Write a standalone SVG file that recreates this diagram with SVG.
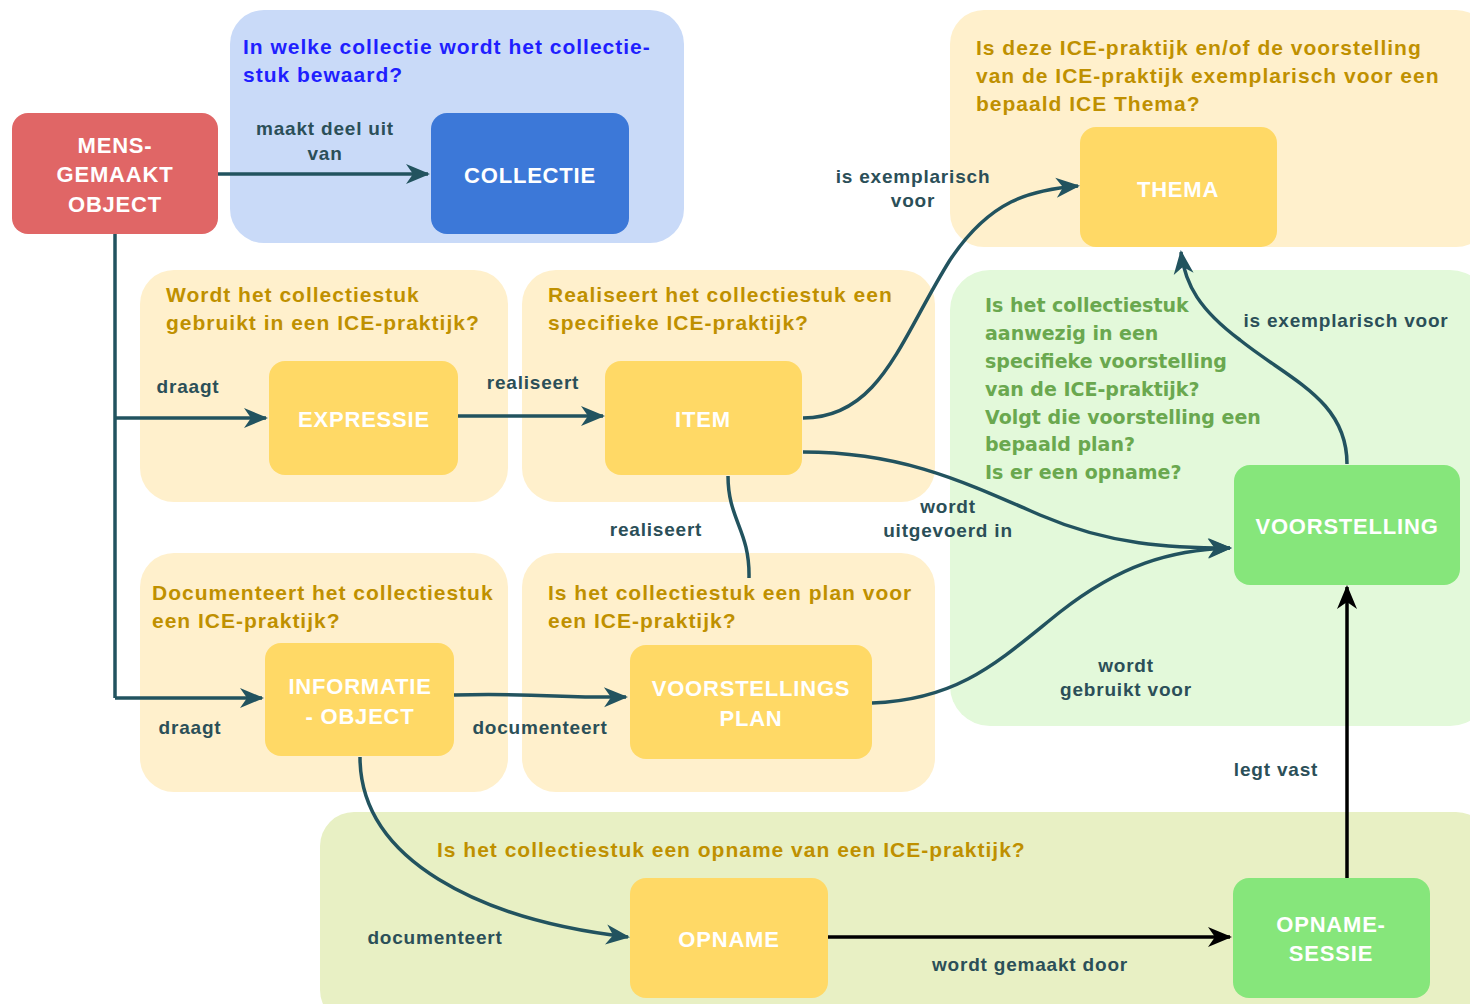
<svg xmlns="http://www.w3.org/2000/svg" width="1470" height="1004" viewBox="0 0 1470 1004">
<style>
.bg-y{fill:#fff0cc}
.bg-b{fill:#c9daf8}
.bg-g{fill:#e3f9da}
.bg-o{fill:#e8f0c4}
.n-y{fill:#ffd966}
.n-g{fill:#86e67b}
.q{font-family:"Liberation Sans",Arial,sans-serif;font-weight:bold;font-size:21px;letter-spacing:1px;fill:#bf9000}
.qb{fill:#1f1fff}
.qg{font-family:"DejaVu Sans",sans-serif;font-weight:bold;font-size:19px;fill:#6aa84f}
.nt{font-family:"Liberation Sans",Arial,sans-serif;font-weight:bold;font-size:22px;letter-spacing:0.8px;fill:#ffffff;text-anchor:middle}
.lb{font-family:"Liberation Sans",Arial,sans-serif;font-weight:bold;font-size:19px;letter-spacing:0.8px;fill:#2b4f58;text-anchor:middle}
.c{fill:none;stroke:#22535f;stroke-width:3.5}
.k{fill:none;stroke:#000;stroke-width:3.5}
</style>
<defs>
<marker id="ah" markerUnits="userSpaceOnUse" markerWidth="28" markerHeight="26" refX="24" refY="12" orient="auto">
<path d="M2,2 L26,12 L2,22 L9,12 z" fill="#22535f"/>
</marker>
<marker id="ak" markerUnits="userSpaceOnUse" markerWidth="28" markerHeight="26" refX="24" refY="12" orient="auto">
<path d="M2,2 L26,12 L2,22 L9,12 z" fill="#000"/>
</marker>
</defs>

<g id="containers">
<rect class="bg-b" x="230" y="10" width="454" height="233" rx="34"/>
<rect class="bg-y" x="950" y="10" width="540" height="237" rx="34"/>
<rect class="bg-g" x="950" y="270" width="540" height="456" rx="40"/>
<rect class="bg-y" x="140" y="270" width="368" height="232" rx="34"/>
<rect class="bg-y" x="522" y="270" width="413" height="232" rx="34"/>
<rect class="bg-y" x="140" y="553" width="368" height="239" rx="34"/>
<rect class="bg-y" x="522" y="553" width="413" height="239" rx="34"/>
<rect class="bg-o" x="320" y="812" width="1170" height="212" rx="34"/>
</g>

<g id="questions">
<text class="q qb" x="243" y="54">In welke collectie wordt het collectie-</text>
<text class="q qb" x="243" y="82">stuk bewaard?</text>
<text class="q" x="976" y="55">Is deze ICE-praktijk en/of de voorstelling</text>
<text class="q" x="976" y="83">van de ICE-praktijk exemplarisch voor een</text>
<text class="q" x="976" y="111">bepaald ICE Thema?</text>
<text class="q" x="166" y="302">Wordt het collectiestuk</text>
<text class="q" x="166" y="330">gebruikt in een ICE-praktijk?</text>
<text class="q" x="548" y="302">Realiseert het collectiestuk een</text>
<text class="q" x="548" y="330">specifieke ICE-praktijk?</text>
<text class="q" x="152" y="600">Documenteert het collectiestuk</text>
<text class="q" x="152" y="628">een ICE-praktijk?</text>
<text class="q" x="548" y="600">Is het collectiestuk een plan voor</text>
<text class="q" x="548" y="628">een ICE-praktijk?</text>
<text class="q" x="437" y="857">Is het collectiestuk een opname van een ICE-praktijk?</text>
<text class="qg" x="985" y="312">Is het collectiestuk</text>
<text class="qg" x="985" y="340">aanwezig in een</text>
<text class="qg" x="985" y="368">specifieke voorstelling</text>
<text class="qg" x="985" y="396">van de ICE-praktijk?</text>
<text class="qg" x="985" y="424">Volgt die voorstelling een</text>
<text class="qg" x="985" y="451">bepaald plan?</text>
<text class="qg" x="985" y="479">Is er een opname?</text>
</g>

<g id="connectors">
<path class="c" d="M218,174 L428,174" marker-end="url(#ah)"/>
<path class="c" d="M115,234 L115,698"/>
<path class="c" d="M115,418 L266,418" marker-end="url(#ah)"/>
<path class="c" d="M115,698 L262,698" marker-end="url(#ah)"/>
<path class="c" d="M458,416 L603,416" marker-end="url(#ah)"/>
<path class="c" d="M803,418 C880,418 900,340 950,260 C990,200 1030,190 1078,186" marker-end="url(#ah)"/>
<path class="c" d="M803,452 C900,452 960,480 1040,515 C1110,545 1170,548 1230,548" marker-end="url(#ah)"/>
<path class="c" d="M872,703 C960,700 1000,660 1060,612 C1120,565 1170,550 1230,548" marker-end="url(#ah)"/>
<path class="c" d="M1347,464 C1347,400 1290,380 1240,340 C1200,310 1185,285 1181,252" marker-end="url(#ah)"/>
<path class="c" d="M728,476 C728,520 750,530 749,578"/>
<path class="c" d="M454,695 C540,693 560,698 626,697" marker-end="url(#ah)"/>
<path class="c" d="M360,757 C360,860 480,920 628,937" marker-end="url(#ah)"/>
<path class="k" d="M828,937 L1230,937" marker-end="url(#ak)"/>
<path class="k" d="M1347,878 L1347,587" marker-end="url(#ak)"/>
<text class="lb" x="325" y="135">maakt deel uit</text>
<text class="lb" x="325" y="160">van</text>
<text class="lb" x="188" y="393">draagt</text>
<text class="lb" x="190" y="734">draagt</text>
<text class="lb" x="533" y="389">realiseert</text>
<text class="lb" x="913" y="183">is exemplarisch</text>
<text class="lb" x="913" y="207">voor</text>
<text class="lb" x="948" y="513">wordt</text>
<text class="lb" x="948" y="537">uitgevoerd in</text>
<text class="lb" x="656" y="536">realiseert</text>
<text class="lb" x="540" y="734">documenteert</text>
<text class="lb" x="1126" y="672">wordt</text>
<text class="lb" x="1126" y="696">gebruikt voor</text>
<text class="lb" x="1346" y="327">is exemplarisch voor</text>
<text class="lb" x="435" y="944">documenteert</text>
<text class="lb" x="1030" y="971">wordt gemaakt door</text>
<text class="lb" x="1276" y="776">legt vast</text>
</g>

<g id="n-mens"><rect x="12" y="113" width="206" height="121" rx="16" fill="#e06666"/>
<text class="nt" x="115" y="153">MENS-</text><text class="nt" x="115" y="182">GEMAAKT</text><text class="nt" x="115" y="212">OBJECT</text></g>
<g id="n-collectie"><rect x="431" y="113" width="198" height="121" rx="16" fill="#3c78d8"/>
<text class="nt" x="530" y="183">COLLECTIE</text></g>
<g id="n-thema"><rect class="n-y" x="1080" y="127" width="197" height="120" rx="16"/>
<text class="nt" x="1178" y="197">THEMA</text></g>
<g id="n-expressie"><rect class="n-y" x="269" y="361" width="189" height="114" rx="16"/>
<text class="nt" x="364" y="427">EXPRESSIE</text></g>
<g id="n-item"><rect class="n-y" x="605" y="361" width="197" height="114" rx="16"/>
<text class="nt" x="703" y="427">ITEM</text></g>
<g id="n-voorstelling"><rect class="n-g" x="1234" y="465" width="226" height="120" rx="16"/>
<text class="nt" x="1347" y="534">VOORSTELLING</text></g>
<g id="n-informatie"><rect class="n-y" x="265" y="643" width="189" height="113" rx="16"/>
<text class="nt" x="360" y="694">INFORMATIE</text><text class="nt" x="360" y="724">- OBJECT</text></g>
<g id="n-vplan"><rect class="n-y" x="630" y="645" width="242" height="114" rx="16"/>
<text class="nt" x="751" y="696">VOORSTELLINGS</text><text class="nt" x="751" y="726">PLAN</text></g>
<g id="n-opname"><rect class="n-y" x="630" y="878" width="198" height="120" rx="16"/>
<text class="nt" x="729" y="947">OPNAME</text></g>
<g id="n-sessie"><rect class="n-g" x="1233" y="878" width="197" height="120" rx="16"/>
<text class="nt" x="1331" y="932">OPNAME-</text><text class="nt" x="1331" y="961">SESSIE</text></g>
</svg>
